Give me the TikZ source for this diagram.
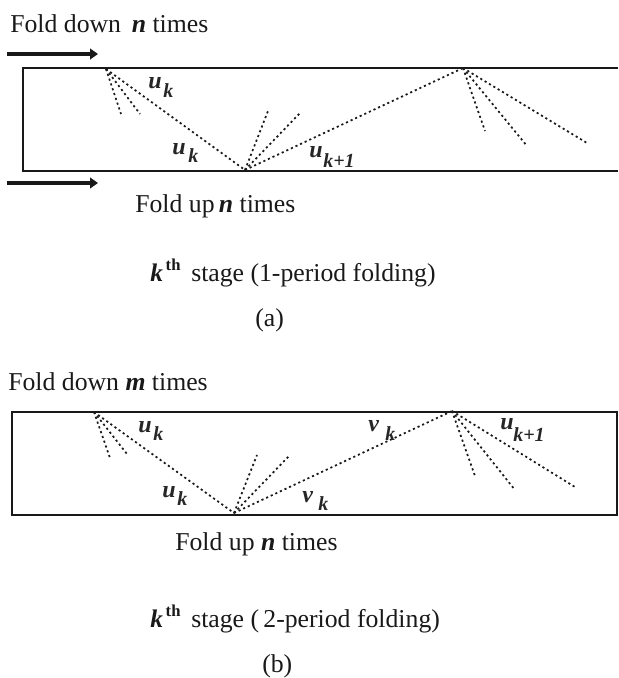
\documentclass[tikz,border=0pt]{standalone}
\usepackage{fontspec}
\setmainfont{Liberation Serif}
\usetikzlibrary{arrows.meta}
\tikzset{
  x=0.75pt,y=-0.75pt,
  frameline/.style={line width=1.5pt,black!90},
  ray/.style={line width=1.3pt,black!90,dash pattern=on 1.6pt off 2.2pt},
  fatarrow/.style={line width=3pt,black!90,-{Triangle[length=6pt,width=8pt]}},
  txt/.style={inner sep=0pt,anchor=base west,font=\fontsize{19.3pt}{22pt}\selectfont,text=black!90},
  sym/.style={inner sep=0pt,anchor=base west,font=\fontsize{18pt}{20pt}\bfseries\itshape\selectfont,text=black!85},
  sub/.style={inner sep=0pt,anchor=base west,font=\fontsize{15pt}{17pt}\bfseries\itshape\selectfont,text=black!85},
}
\newcommand{\bi}[1]{{\bfseries\itshape #1}}
\newcommand{\kth}{\bi{\fontsize{19pt}{20pt}\selectfont k}\raisebox{8pt}{\fontsize{12.5pt}{14pt}\bfseries\selectfont\,th}}
\begin{document}
\begin{tikzpicture}
\useasboundingbox (0,0) rectangle (618,678);
% ---------- (a)
\node[txt] (ta) at (10,32) {Fold down \,\bi{n} times};
\coordinate (a1s) at (7,54); \coordinate (a1e) at (98,54);
\coordinate (a2s) at (7,183); \coordinate (a2e) at (98,183);
\draw[fatarrow] (a1s) -- (a1e);
\draw[fatarrow] (a2s) -- (a2e);
\coordinate (atr) at (618,67.5); \coordinate (atl) at (23,67.5);
\coordinate (abl) at (23,170.5); \coordinate (abr) at (618,170.5);
\draw[frameline] (atr) -- (atl) -- (abl) -- (abr);
\coordinate (A1) at (106,69); \coordinate (A2) at (245,170); \coordinate (A3) at (463,68);
\coordinate (A1a) at (121,114); \coordinate (A1b) at (140,114);
\coordinate (A2a) at (268,111); \coordinate (A2b) at (301,112);
\coordinate (A3a) at (485,131); \coordinate (A3b) at (527,146); \coordinate (A3c) at (587,143);
\draw[ray] (A1) -- (A1a); \draw[ray] (A1) -- (A1b); \draw[ray] (A1) -- (A2);
\draw[ray] (A2) -- (A2a); \draw[ray] (A2) -- (A2b); \draw[ray] (A2) -- (A3);
\draw[ray] (A3) -- (A3a); \draw[ray] (A3) -- (A3b); \draw[ray] (A3) -- (A3c);
\node[sym] (la1) at (148,88) {u}; \node[sub] (la1s) at (163,97) {k};
\node[sym] (la2) at (172,154) {u}; \node[sub] (la2s) at (188,162) {k};
\node[sym] (la3) at (309,157) {u}; \node[sub] (la3s) at (323,167) {k+1};
\node[txt] (tb) at (135,212) {Fold up\,\bi{n} times};
\node[txt] (tc) at (150,281) {\kth\ \,stage (1-period folding)};
\node[txt] (td) at (255,326) {(a)};
% ---------- (b)
\node[txt] (te) at (8,390) {Fold down \bi{m} times};
\coordinate (btl) at (11.5,411.5); \coordinate (btr) at (616.5,411.5);
\coordinate (bbr) at (616.5,515); \coordinate (bbl) at (11.5,515);
\draw[frameline] (btl) -- (btr) -- (bbr) -- (bbl) -- cycle;
\coordinate (B1) at (94,412); \coordinate (B2) at (234,513); \coordinate (B3) at (452,411);
\coordinate (B1a) at (110,458); \coordinate (B1b) at (127,454);
\coordinate (B2a) at (257,455); \coordinate (B2b) at (290,455);
\coordinate (B3a) at (475,476); \coordinate (B3b) at (515,490); \coordinate (B3c) at (575,487);
\draw[ray] (B1) -- (B1a); \draw[ray] (B1) -- (B1b); \draw[ray] (B1) -- (B2);
\draw[ray] (B2) -- (B2a); \draw[ray] (B2) -- (B2b); \draw[ray] (B2) -- (B3);
\draw[ray] (B3) -- (B3a); \draw[ray] (B3) -- (B3b); \draw[ray] (B3) -- (B3c);
\node[sym] (lb1) at (138,432) {u}; \node[sub] (lb1s) at (153,440) {k};
\node[sym] (lb2) at (162,497) {u}; \node[sub] (lb2s) at (177,505) {k};
\node[sym] (lb3) at (368,431) {v}; \node[sub] (lb3s) at (385,440) {k};
\node[sym] (lb4) at (302,502) {v}; \node[sub] (lb4s) at (318,510) {k};
\node[sym] (lb5) at (500,429) {u}; \node[sub] (lb5s) at (513,441) {k+1};
\node[txt] (tf) at (175,550) {Fold up \bi{n} times};
\node[txt] (tg) at (150,627) {\kth\ \,stage (\,2-period folding)};
\node[txt] (th) at (262,672) {(b)};
\end{tikzpicture}
\end{document}
